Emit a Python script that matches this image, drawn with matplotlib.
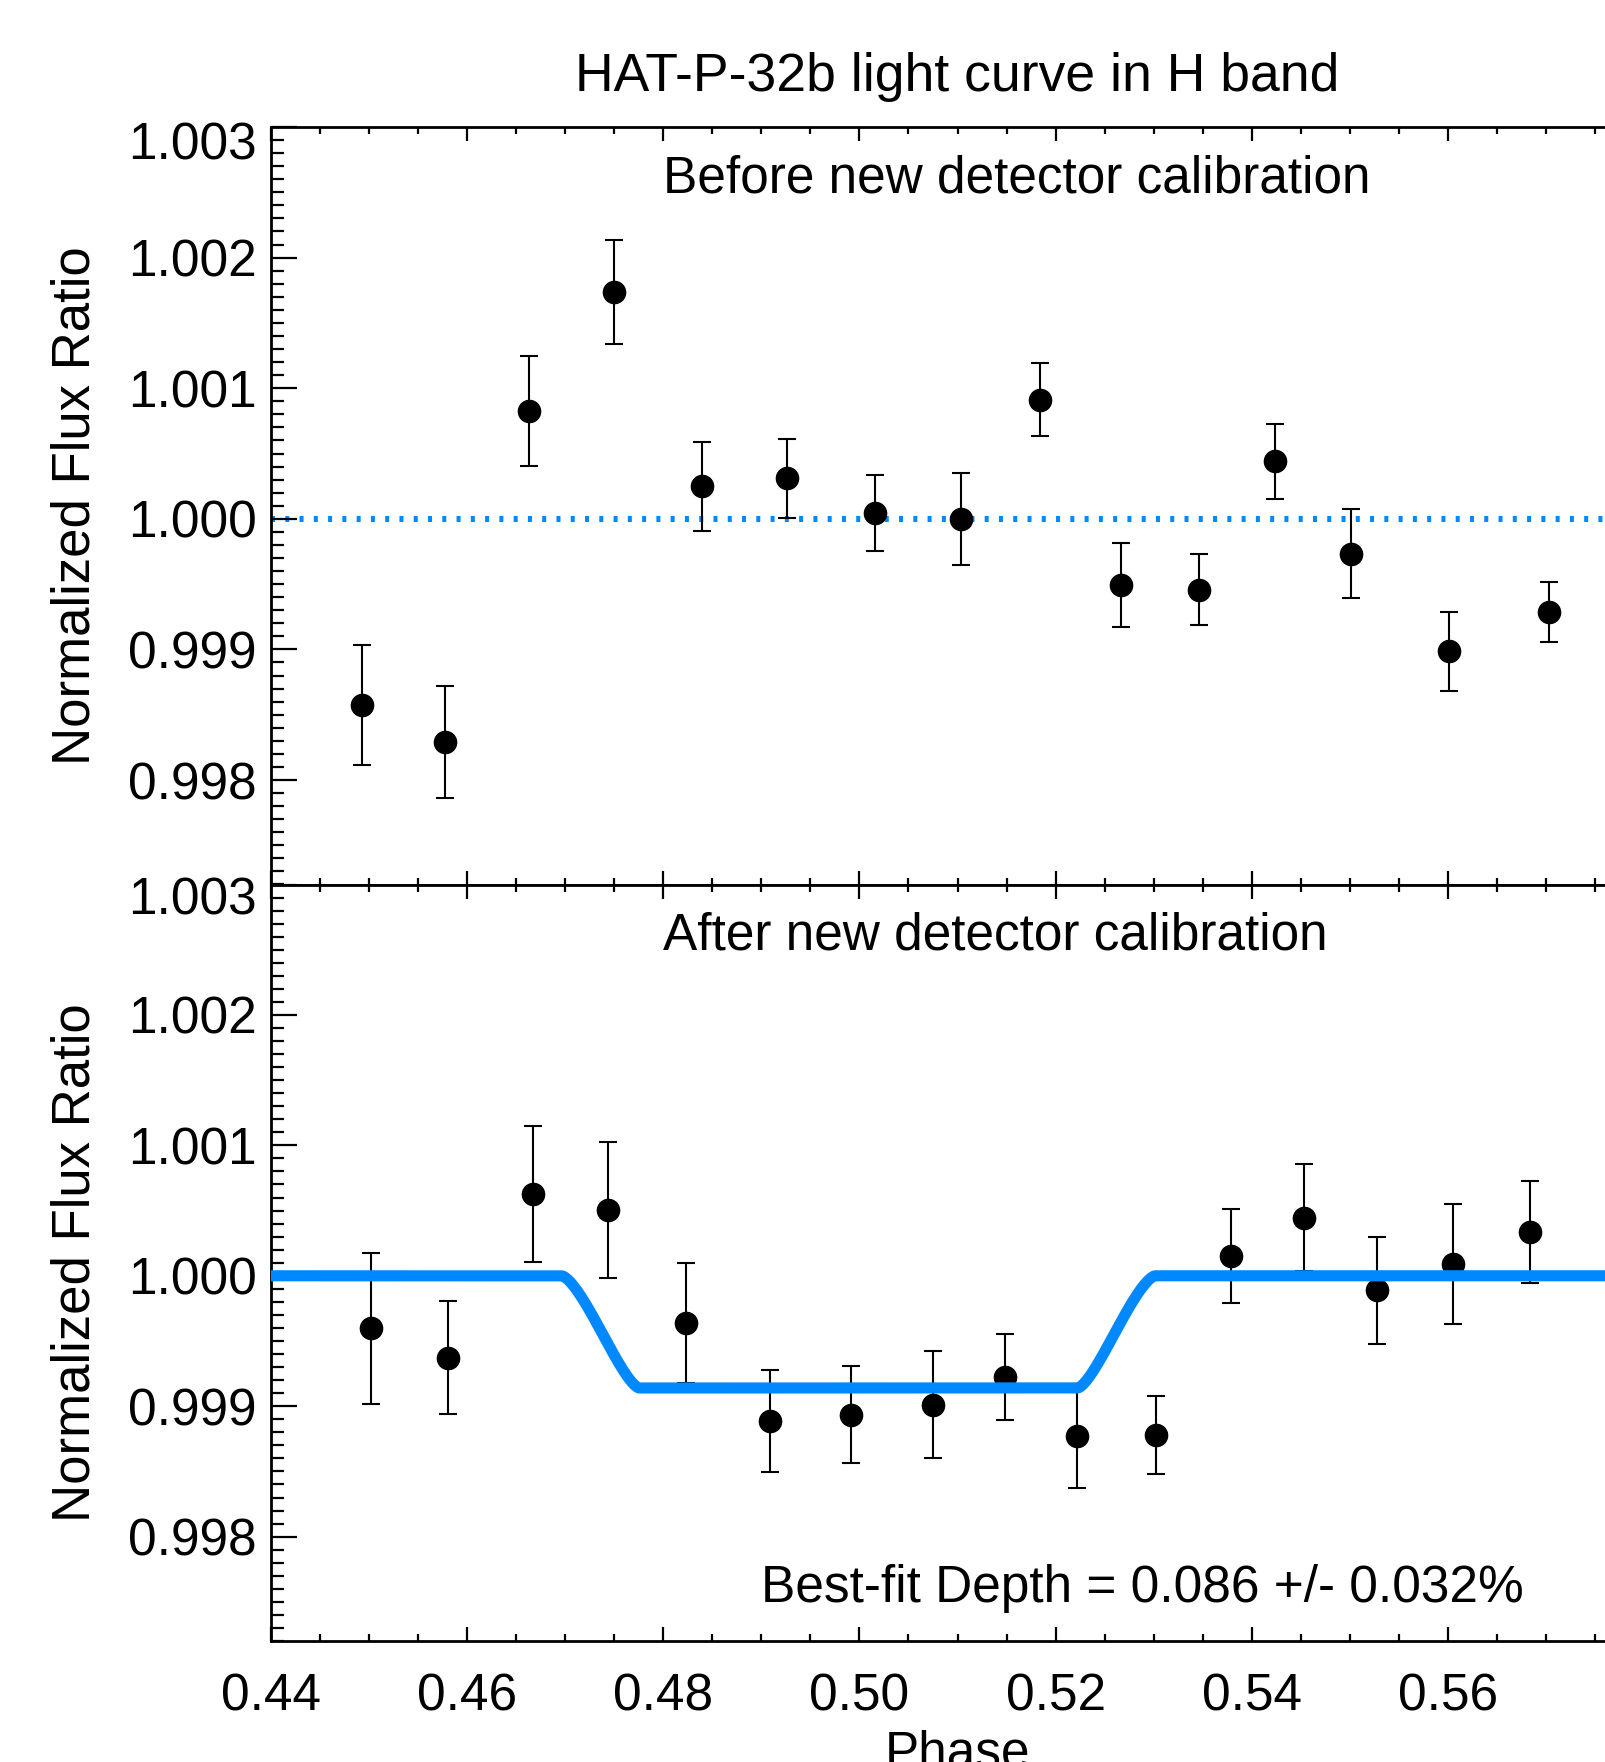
import numpy as np
import matplotlib
matplotlib.use("Agg")
import matplotlib.pyplot as plt
from matplotlib.ticker import MultipleLocator, FixedLocator, FuncFormatter

# Binned light curve before the new detector calibration
phase_before = [0.4493, 0.4577, 0.4663, 0.4750, 0.4839, 0.4926, 0.5016, 0.5104,
                0.5184, 0.5267, 0.5346, 0.5424, 0.5501, 0.5601, 0.5703]
flux_before = [0.998573, 0.998289, 1.000825, 1.001737, 1.000249, 1.000310, 1.000043,
               1.000000, 1.000911, 0.999493, 0.999458, 1.000439, 0.999733, 0.998985,
               0.999286]
err_before = [0.00046, 0.00043, 0.00042, 0.00040, 0.00034, 0.00030, 0.00029, 0.00035,
              0.00028, 0.00032, 0.00027, 0.00029, 0.00034, 0.00030, 0.00023]

# Binned light curve after the new detector calibration
phase_after = [0.4502, 0.4580, 0.4667, 0.4744, 0.4823, 0.4909, 0.4991, 0.5075,
               0.5148, 0.5222, 0.5302, 0.5379, 0.5453, 0.5528, 0.5605, 0.5684]
flux_after = [0.999597, 0.999373, 1.000627, 1.000506, 0.999639, 0.998884, 0.998936,
              0.999013, 0.999227, 0.998773, 0.998781, 1.000155, 1.000446, 0.999888,
              1.000094, 1.000335]
err_after = [0.00058, 0.00043, 0.00052, 0.00052, 0.00046, 0.00039, 0.00037, 0.00041,
             0.00033, 0.00040, 0.00030, 0.00036, 0.00041, 0.00041, 0.00046, 0.00039]

# Best-fit secondary eclipse model parameters
depth_pct = 0.086
depth_err_pct = 0.032
t_mid = 0.4999
t14 = 0.0605
rp_rs = 0.15

xticks = [0.44, 0.46, 0.48, 0.50, 0.52, 0.54, 0.56]
yticks = [0.998, 0.999, 1.000, 1.001, 1.002, 1.003]
xlim = (0.44, 0.58)
ylim = (0.9972, 1.003)

BLUE = "#0088FF"
plt.rcParams["font.family"] = ["Liberation Sans", "DejaVu Sans"]
FS = 37


def hidden_fraction(z, p):
    """Fraction of the planet disk hidden behind the star at separation z."""
    f = np.zeros_like(z)
    f[z <= 1 - p] = 1.0
    part = (z > 1 - p) & (z < 1 + p)
    zz = z[part]
    k0 = np.arccos(np.clip((p**2 + zz**2 - 1) / (2 * p * zz), -1, 1))
    k1 = np.arccos(np.clip((1 - p**2 + zz**2) / (2 * zz), -1, 1))
    area = p**2 * k0 + k1 - 0.5 * np.sqrt(np.maximum(4 * zz**2 - (1 + zz**2 - p**2) ** 2, 0))
    f[part] = area / (np.pi * p**2)
    return f


W, H = 1606, 1762
fig = plt.figure(figsize=(W / 100, H / 100), dpi=100)
left = 271 / W
right = 1644 / W
top1 = 1 - 127 / H
mid = 1 - 884.5 / H
bot = 1 - 1641 / H
ax1 = fig.add_axes([left, mid, right - left, top1 - mid])
ax2 = fig.add_axes([left, bot, right - left, mid - bot])


def ylab(v, pos):
    return "" if abs(v - 1.003) < 1e-9 else f"{v:.3f}"


for ax in (ax1, ax2):
    ax.set_xlim(*xlim)
    ax.set_ylim(*ylim)
    ax.xaxis.set_major_locator(FixedLocator(xticks + [0.58]))
    ax.xaxis.set_minor_locator(MultipleLocator(0.005))
    ax.yaxis.set_major_locator(FixedLocator(yticks))
    ax.yaxis.set_minor_locator(MultipleLocator(0.0001))
    ax.yaxis.set_major_formatter(FuncFormatter(ylab))
    ax.xaxis.set_major_formatter(
        FuncFormatter(lambda v, p: f"{v:.2f}" if v < 0.575 else ""))
    ax.tick_params(axis="x", which="major", direction="in", length=10, width=1.6,
                   top=True, bottom=True, labelsize=FS, pad=23)
    ax.tick_params(axis="x", which="minor", direction="in", length=5, width=1.6,
                   top=True, bottom=True)
    ax.tick_params(axis="y", which="major", direction="in", length=19, width=1.6,
                   left=True, right=False, labelsize=FS, pad=10.5)
    ax.tick_params(axis="y", which="minor", direction="in", length=9.5, width=1.6,
                   left=True, right=False)
    for s in ax.spines.values():
        s.set_linewidth(2)

# top label of each panel sits just inside the axis range
ax1.annotate("1.003", xy=(0, 1.003), xycoords=("axes fraction", "data"),
             xytext=(-10.5, -13.5), textcoords="offset points",
             ha="right", va="center", fontsize=FS)
ax2.annotate("1.003", xy=(0, 1.003), xycoords=("axes fraction", "data"),
             xytext=(-10.5, -12), textcoords="offset points",
             ha="right", va="center", fontsize=FS)

ax1.tick_params(axis="x", labelbottom=False)

# Upper panel
ax1.axhline(1.0, color=BLUE, lw=4.3, linestyle=(0, (0.67, 1.72)),
            dash_capstyle="butt", zorder=1)
ax1.errorbar(phase_before, flux_before, yerr=err_before, fmt="o", color="k",
             ms=16, capsize=6.4, elinewidth=1.5, capthick=1.5, zorder=3)
ax1.text(0.48, 1.0025, "Before new detector calibration", fontsize=FS,
         ha="left", va="baseline")

# Lower panel
ax2.errorbar(phase_after, flux_after, yerr=err_after, fmt="o", color="k",
             ms=16, capsize=6.4, elinewidth=1.5, capthick=1.5, zorder=3)
t = np.linspace(xlim[0], xlim[1], 2000)
z = np.abs(t - t_mid) / (t14 / 2) * (1 + rp_rs)
model = 1 - depth_pct / 100 * hidden_fraction(z, rp_rs)
ax2.plot(t, model, color=BLUE, lw=8, solid_capstyle="butt", zorder=4)
ax2.text(0.48, 1.0025, "After new detector calibration", fontsize=FS,
         ha="left", va="baseline")
ax2.text(0.49, 0.9975, f"Best-fit Depth = {depth_pct:.3f} +/- {depth_err_pct:.3f}%",
         fontsize=FS, ha="left", va="baseline")

# Titles and axis labels, centred on the plot region
xc = (left + right) / 2
fig.text(xc, 1 - 91.5 / H, "HAT-P-32b light curve in H band", fontsize=38.5,
         ha="center", va="baseline")
fig.text(xc, 1 - 1767 / H, "Phase", fontsize=FS, ha="center", va="baseline")
for ax, y0, y1 in ((ax1, mid, top1), (ax2, bot, mid)):
    fig.text(90 / W, (y0 + y1) / 2, "Normalized Flux Ratio", fontsize=38,
             rotation=90, rotation_mode="anchor", ha="center", va="baseline")

fig.savefig("out.png", dpi=100)
